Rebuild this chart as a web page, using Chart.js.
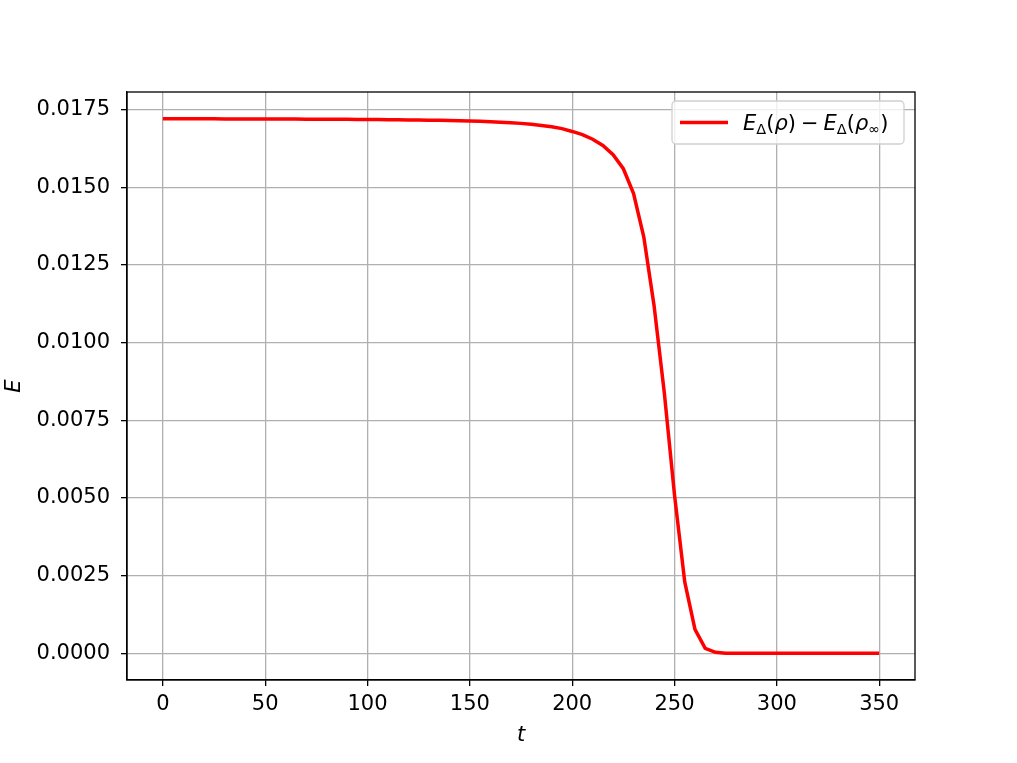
<!DOCTYPE html>
<html>
<head>
<meta charset="utf-8">
<script src="https://cdn.jsdelivr.net/npm/chart.js@4.4.0/dist/chart.umd.min.js"></script>
<style>
  html, body { margin: 0; padding: 0; background: #fff; }
  #wrap { width: 1017px; height: 763px; }
</style>
</head>
<body>
<div id="wrap"><canvas id="chart" width="1017" height="763"></canvas></div>
<script>
// --- data ---
const times = [
  0, 5, 10, 15, 20, 25, 30, 35, 40, 45, 50, 55, 60, 65, 70, 75, 80, 85, 90, 95, 100,
  105, 110, 115, 120, 125, 130, 135, 140, 145, 150, 155, 160, 165, 170, 175, 180,
  185, 190, 195, 200, 205, 210, 215, 220, 225, 230, 235, 240, 245, 250, 255, 260,
  265, 270, 275, 280, 285, 290, 295, 300, 305, 310, 315, 320, 325, 330, 335, 340,
  345, 350
];
const energyDiff = [
  0.017210, 0.017209, 0.017208, 0.017207, 0.017206, 0.017205, 0.017204, 0.017203, 0.017202, 0.017201, 0.017200,
  0.017199, 0.017198, 0.017197, 0.017196, 0.017195, 0.017193, 0.017191, 0.017189, 0.017187, 0.017185,
  0.017182, 0.017179, 0.017176, 0.017172, 0.017168, 0.017163, 0.017158, 0.017152, 0.017145, 0.017137,
  0.017127, 0.017115, 0.017100, 0.017082, 0.017060, 0.017030, 0.016995, 0.016950, 0.016890, 0.016800,
  0.016700, 0.016550, 0.016350, 0.016050, 0.015600, 0.014800, 0.013400, 0.011200, 0.008400, 0.005100,
  0.002300, 0.000770, 0.000160, 0.000030, 0.000005,
  0, 0, 0, 0, 0, 0, 0, 0, 0, 0, 0, 0, 0, 0, 0
];
const xTicks = [0, 50, 100, 150, 200, 250, 300, 350];
const yTicks = [0, 0.0025, 0.005, 0.0075, 0.01, 0.0125, 0.015, 0.0175];
const seriesLabel = 'E_Δ(ρ) − E_Δ(ρ_∞)';

const FONT = 'DejaVu Sans';
const FS = 21;
const GRID = '#b0b0b0';

// spines on all four sides
const framePlugin = {
  id: 'frame',
  afterDatasetsDraw(chart) {
    const { ctx, chartArea: a } = chart;
    ctx.save();
    ctx.strokeStyle = '#000';
    ctx.lineWidth = 1.3;
    ctx.strokeRect(a.left, a.top, a.right - a.left, a.bottom - a.top);
    ctx.restore();
  }
};

// legend box drawn in upper right, label written like mathtext (_ = subscript)
const mathLegend = {
  id: 'mathLegend',
  afterDraw(chart) {
    const { ctx, chartArea: a } = chart;
    const ds = chart.data.datasets[0];
    const bx = a.right - 243, by = a.top + 9, bw = 232, bh = 43;
    ctx.save();
    ctx.beginPath();
    ctx.roundRect(bx, by, bw, bh, 4);
    ctx.fillStyle = 'rgba(255,255,255,0.8)';
    ctx.fill();
    ctx.strokeStyle = '#d0d0d0';
    ctx.lineWidth = 1.3;
    ctx.stroke();

    const cy = by + bh / 2;
    ctx.beginPath();
    ctx.moveTo(bx + 8, cy);
    ctx.lineTo(bx + 56, cy);
    ctx.strokeStyle = ds.borderColor;
    ctx.lineWidth = ds.borderWidth;
    ctx.stroke();

    let x = bx + 71;
    ctx.fillStyle = '#000';
    ctx.textBaseline = 'alphabetic';
    const base = cy + 7.5;
    const txt = ds.label;
    for (let i = 0; i < txt.length; i++) {
      let ch = txt[i];
      let sub = false;
      if (ch === '_') { sub = true; ch = txt[++i]; }
      const italic = 'Eρ'.includes(ch);
      const size = sub ? 14.5 : FS;
      ctx.font = (italic ? 'italic ' : '') + size + 'px "' + FONT + '"';
      let w = ctx.measureText(ch).width;
      if (ch === ' ') w = 5;
      ctx.fillText(ch, x, sub ? base + 4 : base);
      x += w;
    }
    ctx.restore();
  }
};

const points = times.map((t, i) => ({ x: t, y: energyDiff[i] }));

new Chart(document.getElementById('chart'), {
  type: 'line',
  data: {
    datasets: [{
      label: seriesLabel,
      data: points,
      borderColor: '#ff0000',
      borderWidth: 3.5,
      pointRadius: 0,
      tension: 0,
      fill: false
    }]
  },
  options: {
    responsive: false,
    animation: false,
    layout: { padding: { left: 0, right: 102, top: 92, bottom: 0 } },
    plugins: { legend: { display: false }, tooltip: { enabled: false } },
    scales: {
      x: {
        type: 'linear',
        min: -17.5,
        max: 367.5,
        afterBuildTicks: s => { s.ticks = xTicks.map(v => ({ value: v })); },
        afterFit: s => { s.height = 83; },
        grid: { color: GRID, lineWidth: 1.3, tickColor: '#000', tickLength: 6, tickWidth: 1.3 },
        border: { display: true, color: '#000', width: 1.3 },
        ticks: {
          color: '#000', font: { family: FONT, size: FS }, padding: 6,
          maxRotation: 0, autoSkip: false, callback: v => String(v)
        },
        title: {
          display: true, text: 't', color: '#000',
          font: { family: FONT, size: FS, style: 'italic' },
          padding: { top: 0, bottom: 15 }
        }
      },
      y: {
        min: -0.00086,
        max: 0.01807,
        afterBuildTicks: s => { s.ticks = yTicks.map(v => ({ value: v })); },
        afterFit: s => { s.width = 127; },
        grid: { color: GRID, lineWidth: 1.3, tickColor: '#000', tickLength: 6, tickWidth: 1.3 },
        border: { display: true, color: '#000', width: 1.3 },
        ticks: {
          color: '#000', font: { family: FONT, size: FS }, padding: 11,
          autoSkip: false, callback: v => v.toFixed(4)
        },
        title: {
          display: true, text: 'E', color: '#000',
          font: { family: FONT, size: FS, style: 'italic' },
          padding: { top: 2, bottom: 0 }
        }
      }
    }
  },
  plugins: [framePlugin, mathLegend]
});
</script>
</body>
</html>
